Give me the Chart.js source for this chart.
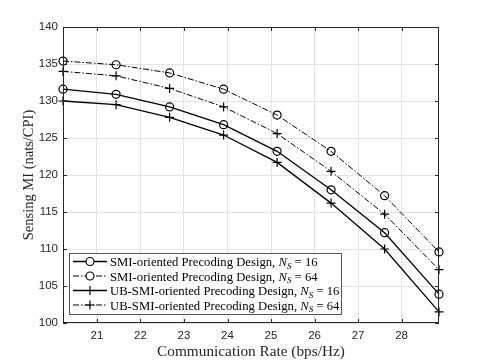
<!DOCTYPE html>
<html lang="en">
<head>
  <meta charset="UTF-8" />
  <title>Sensing MI vs Communication Rate</title>
  <script src="https://cdn.jsdelivr.net/npm/chart.js"></script>
  <style>
    html, body { margin: 0; padding: 0; background: #fff; }
    #wrap { width: 485px; height: 363px; }
  </style>
</head>
<body>
<div id="wrap"><canvas id="chart" width="485" height="363"></canvas></div>
<script>
  // values
  const rates = [20.22, 21.44, 22.67, 23.91, 25.14, 26.38, 27.61, 28.86];
  const smi16 = [131.6, 130.9, 129.2, 126.8, 123.2, 118.0, 112.2, 103.9];
  const smi64 = [135.4, 134.9, 133.8, 131.6, 128.1, 123.2, 117.2, 109.6];
  const ub16 = [130.0, 129.5, 127.8, 125.4, 121.7, 116.2, 110.0, 101.5];
  const ub64 = [134.0, 133.4, 131.7, 129.2, 125.6, 120.5, 114.7, 107.2];
  const xTicks = [21, 22, 23, 24, 25, 26, 27, 28];
  const yTicks = [100, 105, 110, 115, 120, 125, 130, 135, 140];
  const seriesNames = ["SMI-oriented Precoding Design, ", "SMI-oriented Precoding Design, ",
    "UB-SMI-oriented Precoding Design, ", "UB-SMI-oriented Precoding Design, "];
  const seriesNs = ["16", "64", "16", "64"];

  const SERIF = "'Liberation Serif', 'DejaVu Serif', serif";
  const SANS = "'Liberation Sans', Arial, sans-serif";
  const DASHDOT = [6, 2, 1.5, 2];

  function pts(ys) {
    return rates.map((x, i) => ({ x: x, y: ys[i] }));
  }

  function makeSet(ys, style, dashed) {
    return {
      data: pts(ys),
      borderColor: "#000",
      backgroundColor: "rgba(0,0,0,0)",
      borderWidth: dashed ? 1 : 1.3,
      borderDash: dashed ? DASHDOT : [],
      pointStyle: style,
      pointRadius: style === "circle" ? 4 : 4.5,
      pointBorderWidth: 1.2,
      pointBorderColor: "#000",
      pointBackgroundColor: "rgba(0,0,0,0)",
      tension: 0,
      clip: false,
    };
  }

  const datasets = [
    makeSet(smi16, "circle", false),
    makeSet(smi64, "circle", true),
    makeSet(ub16, "cross", false),
    makeSet(ub64, "cross", true),
  ];

  // box, inward ticks and legend like the matlab figure
  const framePlugin = {
    id: "frame",
    afterDatasetsDraw(chart) {
      const ctx = chart.ctx;
      const a = chart.chartArea;
      const xs = chart.scales.x, ys = chart.scales.y;
      ctx.save();
      ctx.strokeStyle = "#262626";
      ctx.lineWidth = 1;
      ctx.setLineDash([]);
      ctx.strokeRect(a.left + 0.5, a.top + 0.5, a.right - a.left - 1, a.bottom - a.top - 1);
      ctx.beginPath();
      xTicks.forEach((v) => {
        const px = Math.round(xs.getPixelForValue(v)) + 0.5;
        ctx.moveTo(px, a.bottom); ctx.lineTo(px, a.bottom - 4);
        ctx.moveTo(px, a.top); ctx.lineTo(px, a.top + 4);
      });
      yTicks.forEach((v) => {
        const py = Math.round(ys.getPixelForValue(v)) + 0.5;
        ctx.moveTo(a.left, py); ctx.lineTo(a.left + 4, py);
        ctx.moveTo(a.right, py); ctx.lineTo(a.right - 4, py);
      });
      ctx.stroke();
      ctx.restore();
    },
    afterDraw(chart) {
      const ctx = chart.ctx;
      const bx = 69, by = 253, bw = 272, bh = 61;
      ctx.save();
      ctx.fillStyle = "#fff";
      ctx.fillRect(bx, by, bw, bh);
      ctx.strokeStyle = "#555";
      ctx.lineWidth = 1;
      ctx.strokeRect(bx + 0.5, by + 0.5, bw, bh);
      datasets.forEach((ds, i) => {
        const cy = 261.5 + i * 14.5;
        ctx.strokeStyle = "#000";
        ctx.lineWidth = ds.borderWidth;
        ctx.setLineDash(ds.borderDash);
        ctx.beginPath();
        ctx.moveTo(73, cy); ctx.lineTo(107, cy);
        ctx.stroke();
        ctx.setLineDash([]);
        ctx.lineWidth = 1.2;
        ctx.beginPath();
        if (ds.pointStyle === "circle") {
          ctx.fillStyle = "#fff";
          ctx.arc(90, cy, 4, 0, Math.PI * 2);
          ctx.fill();
        } else {
          ctx.moveTo(85.5, cy); ctx.lineTo(94.5, cy);
          ctx.moveTo(90, cy - 4.5); ctx.lineTo(90, cy + 4.5);
        }
        ctx.stroke();
        // text with N_S
        ctx.fillStyle = "#000";
        ctx.textBaseline = "alphabetic";
        ctx.textAlign = "left";
        let tx = 110;
        const base = cy + 4.5;
        ctx.font = "12.7px " + SERIF;
        ctx.fillText(seriesNames[i], tx, base);
        tx += ctx.measureText(seriesNames[i]).width;
        ctx.font = "italic 12.7px " + SERIF;
        ctx.fillText("N", tx, base);
        tx += ctx.measureText("N").width;
        ctx.font = "italic 9px " + SERIF;
        ctx.fillText("S", tx, base + 2.5);
        tx += ctx.measureText("S").width;
        ctx.font = "12.7px " + SERIF;
        ctx.fillText(" = " + seriesNs[i], tx, base);
      });
      ctx.restore();
    },
  };

  new Chart(document.getElementById("chart"), {
    type: "line",
    data: { datasets: datasets },
    options: {
      responsive: false,
      animation: false,
      layout: { padding: { top: 27, right: 46, left: 0, bottom: 0 } },
      plugins: { legend: { display: false }, tooltip: { enabled: false } },
      scales: {
        x: {
          type: "linear",
          min: rates[0],
          max: rates[rates.length - 1],
          afterBuildTicks: (s) => { s.ticks = xTicks.map((v) => ({ value: v })); },
          afterFit: (s) => { s.height = 40; },
          grid: { color: "#e3e3e3", drawTicks: false },
          border: { display: false },
          ticks: { color: "#262626", font: { family: SANS, size: 11.5 }, padding: 6, maxRotation: 0 },
          title: {
            display: true,
            text: "Communication Rate (bps/Hz)",
            color: "#262626",
            font: { family: SERIF, size: 15.3 },
            padding: 2,
          },
        },
        y: {
          min: 100,
          max: 140,
          afterBuildTicks: (s) => { s.ticks = yTicks.map((v) => ({ value: v })); },
          afterFit: (s) => { s.width = 63; },
          grid: { color: "#e3e3e3", drawTicks: false },
          border: { display: false },
          ticks: { color: "#262626", font: { family: SANS, size: 11.5 }, padding: 5 },
          title: {
            display: true,
            text: "Sensing MI (nats/CPI)",
            color: "#262626",
            font: { family: SERIF, size: 14.5 },
            padding: 20,
          },
        },
      },
    },
    plugins: [framePlugin],
  });
</script>
</body>
</html>
